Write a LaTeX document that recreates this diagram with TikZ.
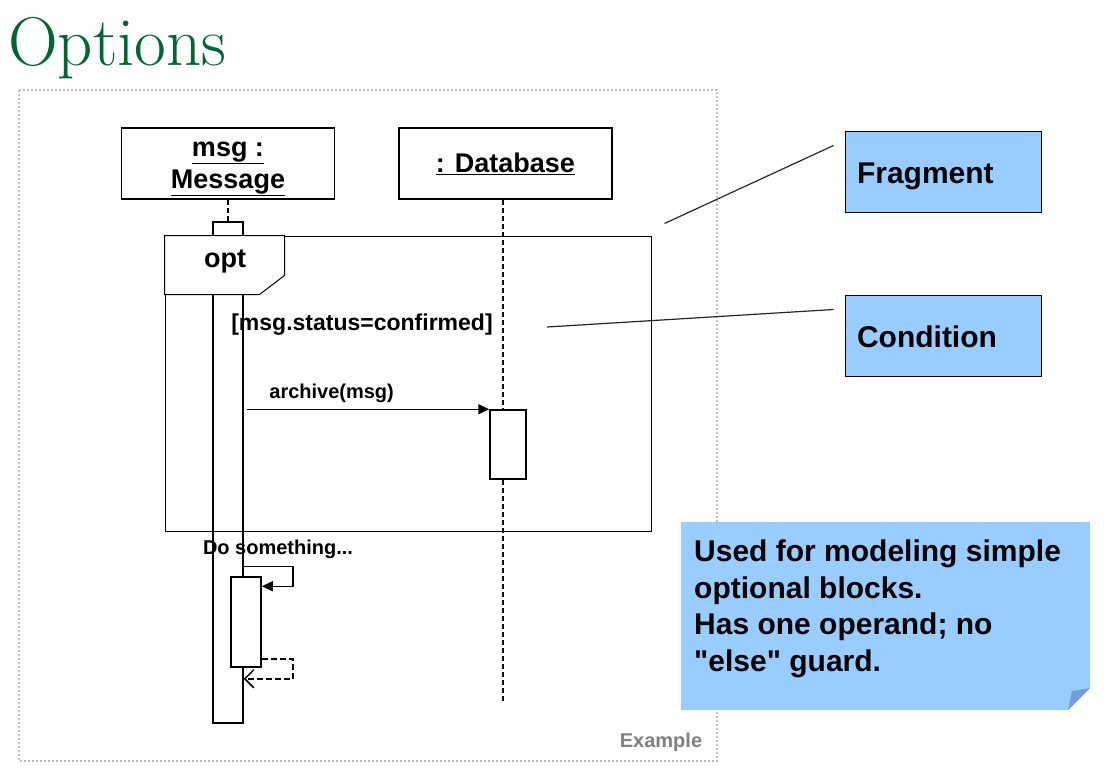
\documentclass[tikz,border=0pt]{standalone}
\usepackage{fontspec}
\setsansfont{Liberation Sans}[Ligatures=TeXOff]
\usetikzlibrary{arrows.meta,calc}
\definecolor{titlegreen}{RGB}{0,102,51}
\definecolor{calloutblue}{RGB}{153,204,255}
\definecolor{foldblue}{RGB}{112,160,214}

\begin{document}
\begin{tikzpicture}[x=1pt,y=1pt,yscale=-1,
	head/.style={draw,line width=1.5pt,fill=white,minimum width=213pt,minimum height=71pt,align=center,font=\sffamily\bfseries\fontsize{27}{32}\selectfont},
	bar/.style={draw,line width=1.5pt,fill=white,inner sep=0pt},
	lifeline/.style={line width=1.5pt,dash pattern=on 5pt off 3pt},
	call/.style={line width=1.5pt,-{Triangle[length=11pt,width=10pt]}},
	reply/.style={line width=1.5pt,dash pattern=on 6pt off 3pt,-{Straight Barb[length=9pt,width=18pt]}},
	callout/.style={draw,line width=1pt,fill=calloutblue,minimum width=196pt,minimum height=81pt,text width=172pt,text height=27pt,text depth=3pt,inner xsep=12pt,align=left,font=\sffamily\bfseries\fontsize{30}{36}\selectfont},
	pointer/.style={line width=1.2pt,draw=black!85}]
	\useasboundingbox (0,0) rectangle (1118,774);
	
	% Title
	\node[anchor=base west,inner sep=0pt,text=titlegreen,font=\fontsize{69}{72}\selectfont] (title) at (8,65) {Options};
	%Shape: dotted example frame
	\draw[black!25,line width=2pt,dash pattern=on 2pt off 2pt] (19,90) rectangle (717,761);
	
	% lifeline heads
	\node[head] (msg) at (228,163.5) {};
	\node[font=\sffamily\bfseries\fontsize{27}{32}\selectfont,align=center] (msgtext) at (228,169) {\underline{msg :}\\\underline{Message}};
	\node[head] (db) at (505.5,163.5) {\underline{: Database}};
	\coordinate (dbend) at (503,703);
	
	% activation bars
	\node[bar,minimum width=30pt,minimum height=501pt] (act1) at (228,472.5) {};
	\draw[lifeline] (msg.south) -- (act1.north);
	\draw[lifeline] (db.south -| dbend) -- (dbend);
	\node[bar,minimum width=36pt,minimum height=69pt] (act2) at (508,444.5) {};
	
	%Shape: opt fragment
	\node[draw,line width=1pt,minimum width=486pt,minimum height=295pt] (opt) at (408,383.5) {};
	\draw[line width=1pt,fill=white] (opt.north west) -- ++(120,0) -- ++(0,40) -- ++(-25,19) -- ($(opt.north west)+(0,59)$) -- cycle;
	% Text Node
	\node[font=\sffamily\bfseries\fontsize{27}{31}\selectfont] (optlabel) at (225,261) {opt};
	% Text Node
	\node[font=\sffamily\bfseries\fontsize{23}{28}\selectfont] (guard) at (362,325) {[msg.status=confirmed]};
	
	% message
	\draw[call] ($(act2.north west -| act1.east)+(3,0)$) -- node[pos=0.35,above=2pt,font=\sffamily\bfseries\fontsize{20}{24}\selectfont] (archive) {archive(msg)} (act2.north west);
	
	% self call
	\node[font=\sffamily\bfseries\fontsize{20}{24}\selectfont] (dosth) at (278,549) {Do something...};
	\node[bar,minimum width=30pt,minimum height=90pt] (act3) at (246,622) {};
	\draw[call] ($(act3.north -| act1.east)+(0,-10)$) -- ++(49,0) |- ($(act3.north east)+(0,10)$);
	\draw[reply] ($(act3.south east)+(0,-9)$) -- ++(31,0) |- ($(act3.south -| act1.east)+(0,11)$);
	
	% Text Node
	\node[text=black!50,font=\sffamily\bfseries\fontsize{20}{24}\selectfont] (example) at (661,742) {Example};
	
	% callouts
	\node[callout] (frag) at (943,171.5) {Fragment};
	\node[callout] (cond) at (943,335.5) {Condition};
	\coordinate (condtip) at (547,327);
	\draw[pointer] ($(opt.north east)+(13,-12)$) -- ($(frag.north west)+(-11,15)$);
	\draw[pointer] (condtip) -- ($(cond.north west)+(-11,15)$);
	
	%Shape: note with folded corner
	\fill[calloutblue] (681,522) -- (1090,522) -- (1090,688) -- (1068,710) -- (681,710) -- cycle;
	\fill[foldblue] (1090,688) -- (1072,691) -- (1068,710) -- cycle;
	% Text Node
	\node[anchor=north west,inner sep=0pt,align=left,font=\sffamily\bfseries\fontsize{30}{36.5}\selectfont] (note) at (694,540) {Used for modeling simple\\optional blocks.\\Has one operand; no\\"else" guard.};
\end{tikzpicture}
\end{document}
